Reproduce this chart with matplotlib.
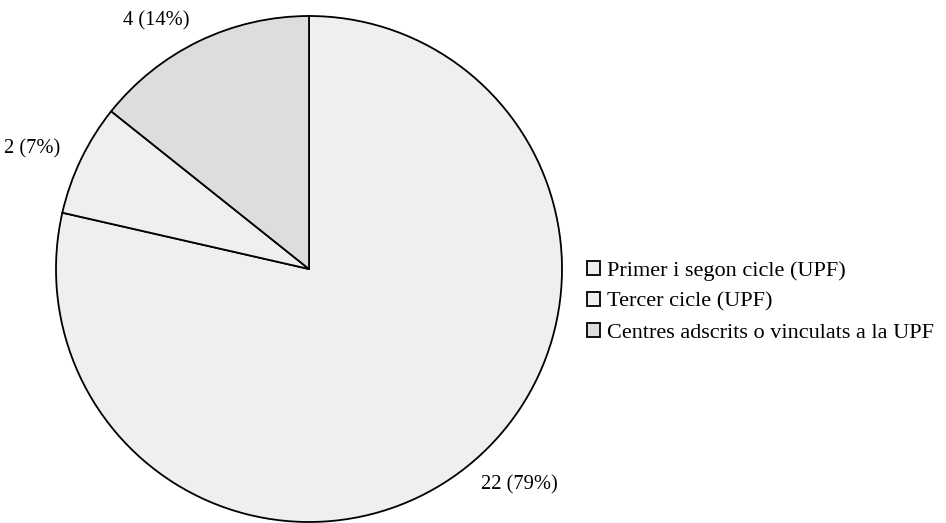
import matplotlib.pyplot as plt

# Dades
categories = ['Primer i segon cicle (UPF)', 'Tercer cicle (UPF)',
              'Centres adscrits o vinculats a la UPF']
values = [22, 2, 4]
labels = ['22 (79%)', '2 (7%)', '4 (14%)']
colors = ['#efefef', '#efefef', '#dddddd']

plt.rcParams['font.family'] = ['Liberation Serif', 'DejaVu Serif']

fig = plt.figure(figsize=(9.46, 5.23), dpi=100)
ax = fig.add_axes([56 / 946, 1 / 523, 506 / 946, 506 / 523])

wedges, texts = ax.pie(values, labels=labels, colors=colors, startangle=90,
                       counterclock=False, labeldistance=1.09,
                       wedgeprops=dict(edgecolor='black', linewidth=1.3),
                       textprops=dict(fontsize=14.8))
for w in wedges:
    w.set_clip_on(False)
for t in texts:
    t.set_clip_on(False)
ax.set_xlim(-1, 1)
ax.set_ylim(-1, 1)
ax.set_aspect('equal')

# Llegenda
leg = fig.legend(wedges, categories, loc='center left',
                 bbox_to_anchor=(587 / 946, 221 / 523), frameon=False,
                 fontsize=16, handlelength=0.6, handleheight=0.6,
                 handletextpad=0.3, labelspacing=0.5, borderpad=0,
                 borderaxespad=0)
for h in leg.legend_handles:
    h.set_linewidth(1.3)

fig.savefig('out.png', dpi=100)
